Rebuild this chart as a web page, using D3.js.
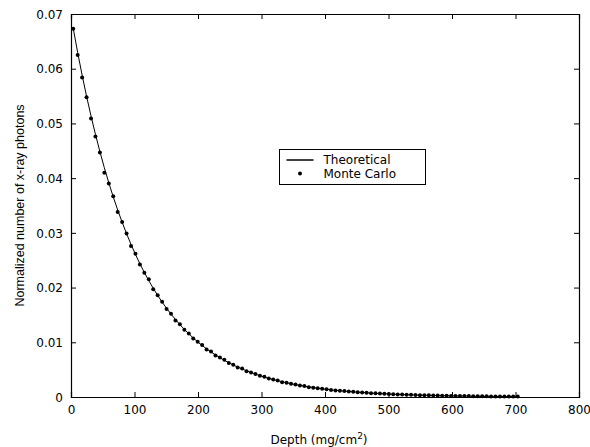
<!DOCTYPE html>
<html>
<head>
<meta charset="utf-8">
<script src="https://cdn.jsdelivr.net/npm/d3@7"></script>
<style>
  body { margin: 0; background: #fff; }
  svg text { fill: #000; }
</style>
</head>
<body>
<script>
// depth values (mg/cm^2)
var depth = [3.5, 10.5, 17.5, 24.5, 31.5, 38.5, 45.5, 52.5, 59.5, 66.5,
  73.5, 80.5, 87.5, 94.5, 101.5, 108.5, 115.5, 122.5, 129.5, 136.5,
  143.5, 150.5, 157.5, 164.5, 171.5, 178.5, 185.5, 192.5, 199.5, 206.5,
  213.5, 220.5, 227.5, 234.5, 241.5, 248.5, 255.5, 262.5, 269.5, 276.5,
  283.5, 290.5, 297.5, 304.5, 311.5, 318.5, 325.5, 332.5, 339.5, 346.5,
  353.5, 360.5, 367.5, 374.5, 381.5, 388.5, 395.5, 402.5, 409.5, 416.5,
  423.5, 430.5, 437.5, 444.5, 451.5, 458.5, 465.5, 472.5, 479.5, 486.5,
  493.5, 500.5, 507.5, 514.5, 521.5, 528.5, 535.5, 542.5, 549.5, 556.5,
  563.5, 570.5, 577.5, 584.5, 591.5, 598.5, 605.5, 612.5, 619.5, 626.5,
  633.5, 640.5, 647.5, 654.5, 661.5, 668.5, 675.5, 682.5, 689.5, 696.5, 703.5];

var theoretical = [0.06738, 0.06296, 0.05883, 0.05497, 0.05137, 0.04800, 0.04485, 0.04191, 0.03916, 0.03659,
  0.03419, 0.03195, 0.02986, 0.02790, 0.02607, 0.02436, 0.02276, 0.02127, 0.01987, 0.01857,
  0.01735, 0.01621, 0.01515, 0.01416, 0.01323, 0.01236, 0.01155, 0.01079, 0.01008, 0.00942,
  0.00880, 0.00823, 0.00769, 0.00718, 0.00671, 0.00627, 0.00586, 0.00548, 0.00512, 0.00478,
  0.00447, 0.00418, 0.00390, 0.00365, 0.00341, 0.00318, 0.00298, 0.00278, 0.00260, 0.00243,
  0.00227, 0.00212, 0.00198, 0.00185, 0.00173, 0.00162, 0.00151, 0.00141, 0.00132, 0.00123,
  0.00115, 0.00108, 0.00101, 0.00094, 0.00088, 0.00082, 0.00077, 0.00072, 0.00067, 0.00063,
  0.00059, 0.00055, 0.00051, 0.00048, 0.00045, 0.00042, 0.00039, 0.00036, 0.00034, 0.00032,
  0.00030, 0.00028, 0.00026, 0.00024, 0.00023, 0.00021, 0.00020, 0.00018, 0.00017, 0.00016,
  0.00015, 0.00014, 0.00013, 0.00012, 0.00011, 0.00011, 0.00010, 0.00009, 0.00009, 0.00008, 0.00008];

var monteCarlo = [0.06730, 0.06250, 0.05840, 0.05480, 0.05090, 0.04760, 0.04470, 0.04100, 0.03900, 0.03670,
  0.03380, 0.03200, 0.02990, 0.02760, 0.02620, 0.02420, 0.02270, 0.02150, 0.01970, 0.01860,
  0.01740, 0.01610, 0.01520, 0.01400, 0.01330, 0.01230, 0.01160, 0.01070, 0.01010, 0.00950,
  0.00870, 0.00830, 0.00760, 0.00720, 0.00680, 0.00620, 0.00590, 0.00540, 0.00520, 0.00470,
  0.00450, 0.00420, 0.00390, 0.00370, 0.00340, 0.00320, 0.00300, 0.00270, 0.00260, 0.00240,
  0.00230, 0.00210, 0.00200, 0.00180, 0.00170, 0.00160, 0.00150, 0.00140, 0.00130, 0.00120,
  0.00115, 0.00110, 0.00100, 0.00095, 0.00088, 0.00080, 0.00078, 0.00070, 0.00068, 0.00062,
  0.00060, 0.00054, 0.00052, 0.00047, 0.00045, 0.00041, 0.00040, 0.00036, 0.00034, 0.00031,
  0.00030, 0.00027, 0.00026, 0.00024, 0.00023, 0.00020, 0.00020, 0.00018, 0.00017, 0.00016,
  0.00015, 0.00014, 0.00013, 0.00012, 0.00011, 0.00010, 0.00010, 0.00009, 0.00009, 0.00008, 0.00008];

var xTicks = [0, 100, 200, 300, 400, 500, 600, 700, 800];
var yTicks = [0, 0.01, 0.02, 0.03, 0.04, 0.05, 0.06, 0.07];
var legendLabels = ["Theoretical", "Monte Carlo"];

var width = 590, height = 447;
var margin = { top: 14, right: 11, bottom: 50, left: 71 };
var w = width - margin.left - margin.right;
var h = height - margin.top - margin.bottom;

var svg = d3.select("body").append("svg")
    .attr("width", width)
    .attr("height", height);

var g = svg.append("g")
    .attr("transform", "translate(" + margin.left + "," + margin.top + ")");

var x = d3.scaleLinear().domain([0, 800]).range([0, w]);
var y = d3.scaleLinear().domain([0, 0.07]).range([h, 0]);

var fmtY = function (d) { return d === 0 ? "0" : d3.format(".2f")(d); };

// axes, matlab style ticks pointing inward
var xAxis = g.append("g").attr("transform", "translate(0," + h + ")")
    .call(d3.axisBottom(x).tickValues(xTicks).tickSize(-5).tickPadding(8).tickFormat(d3.format("d")));
var xTop = g.append("g")
    .call(d3.axisTop(x).tickValues(xTicks).tickSize(-5).tickFormat(""));
var yAxis = g.append("g")
    .call(d3.axisLeft(y).tickValues(yTicks).tickSize(-5).tickPadding(8).tickFormat(fmtY));
var yRight = g.append("g").attr("transform", "translate(" + w + ",0)")
    .call(d3.axisRight(y).tickValues(yTicks).tickSize(-5).tickFormat(""));

[xAxis, xTop, yAxis, yRight].forEach(function (a) {
  a.select(".domain").attr("stroke", "#000").attr("stroke-width", 1.2);
  a.selectAll(".tick line").attr("stroke", "#000");
  a.selectAll("text")
    .style("font-family", "'DejaVu Sans', sans-serif")
    .style("font-size", "12px")
    .attr("fill", "#000");
});
yAxis.selectAll("text").attr("dy", "0.35em");

var pts = depth.map(function (d, i) { return { x: d, t: theoretical[i], m: monteCarlo[i] }; });

var line = d3.line()
    .x(function (d) { return x(d.x); })
    .y(function (d) { return y(d.t); });

g.append("path")
    .datum(pts)
    .attr("fill", "none")
    .attr("stroke", "#000")
    .attr("stroke-width", 1)
    .attr("d", line);

g.selectAll("circle.mc")
    .data(pts)
    .enter()
    .append("circle")
    .attr("class", "mc")
    .attr("cx", function (d) { return x(d.x); })
    .attr("cy", function (d) { return y(d.m); })
    .attr("r", 2)
    .style("fill", "#000");

// axis titles
svg.append("text")
    .attr("x", 319)
    .attr("y", 444)
    .attr("text-anchor", "middle")
    .style("font-family", "'DejaVu Sans', sans-serif")
    .style("font-size", "12px")
    .html('Depth (mg/cm<tspan dy="-5" style="font-size:9px">2</tspan><tspan dy="5">)</tspan>');

svg.append("text")
    .attr("transform", "translate(24," + (margin.top + h / 2) + ") rotate(-90)")
    .attr("text-anchor", "middle")
    .style("font-family", "'Liberation Sans', Arial, sans-serif")
    .style("font-size", "12.5px")
    .text("Normalized number of x-ray photons");

// legend
var lg = svg.append("g").attr("transform", "translate(279.5,149.5)");
lg.append("rect")
    .attr("width", 146)
    .attr("height", 35)
    .attr("fill", "#fff")
    .attr("stroke", "#000");
lg.append("line")
    .attr("x1", 7).attr("x2", 34)
    .attr("y1", 10.5).attr("y2", 10.5)
    .attr("stroke", "#000").attr("stroke-width", 1.5);
lg.append("circle")
    .attr("cx", 20.5).attr("cy", 24)
    .attr("r", 2).style("fill", "#000");
lg.selectAll("text.lab")
    .data(legendLabels)
    .enter()
    .append("text")
    .attr("class", "lab")
    .attr("x", 44)
    .attr("y", function (d, i) { return 10.5 + i * 14; })
    .attr("dy", "0.35em")
    .style("font-family", "'DejaVu Sans', sans-serif")
    .style("font-size", "12px")
    .text(function (d) { return d; });
</script>
</body>
</html>
